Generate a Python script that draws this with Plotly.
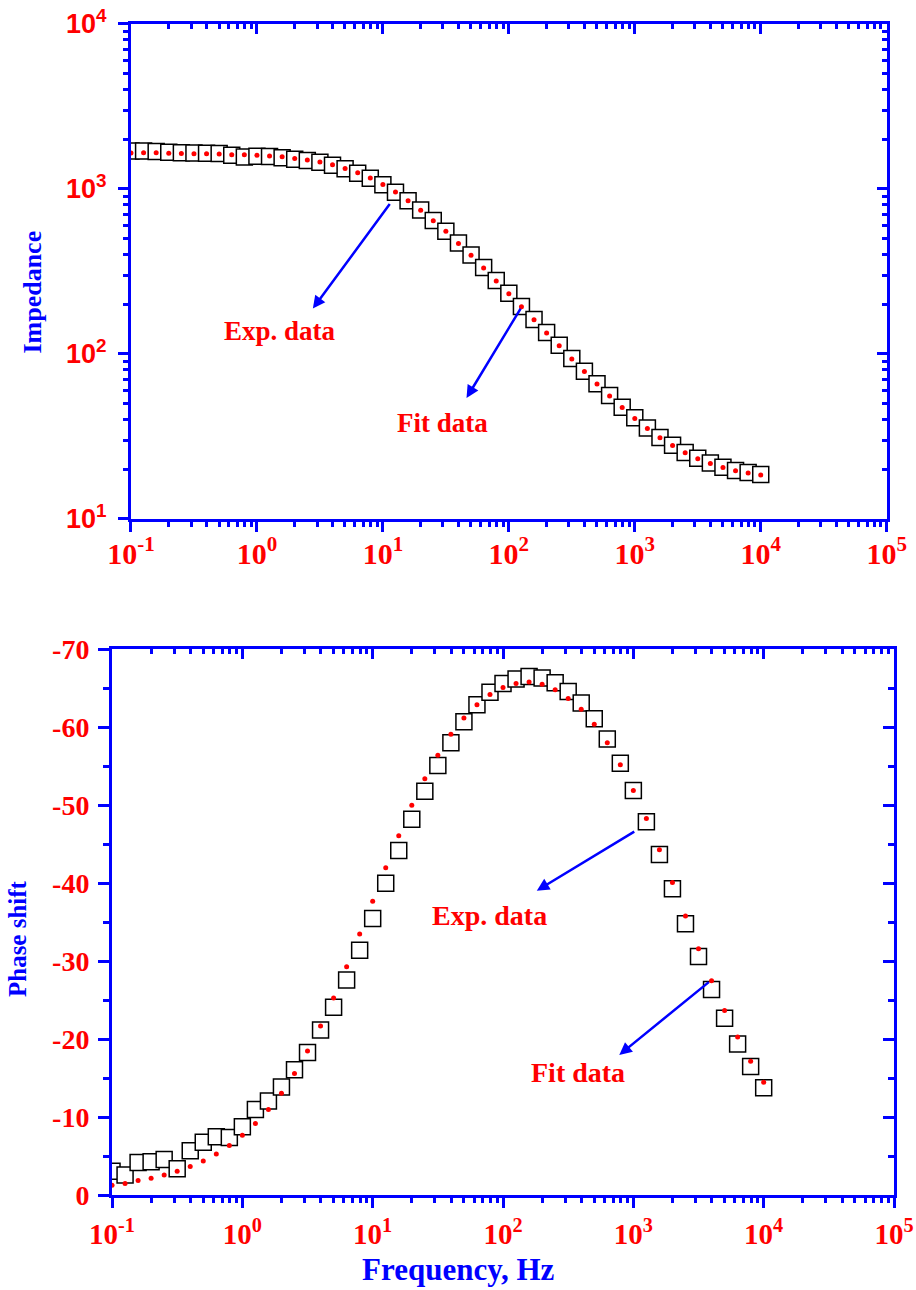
import plotly.graph_objects as go

# ---------------- data ----------------
freq_hz = [0.1, 0.1259, 0.1585, 0.1995, 0.2512, 0.3162, 0.3981, 0.5012, 0.631, 0.7943,
           1.0, 1.259, 1.585, 1.995, 2.512, 3.162, 3.981, 5.012, 6.31, 7.943,
           10.0, 12.59, 15.85, 19.95, 25.12, 31.62, 39.81, 50.12, 63.1, 79.43,
           100.0, 125.9, 158.5, 199.5, 251.2, 316.2, 398.1, 501.2, 631.0, 794.3,
           1000.0, 1259.0, 1585.0, 1995.0, 2512.0, 3162.0, 3981.0, 5012.0, 6310.0, 7943.0,
           10000.0]

impedance_exp = [1700, 1700, 1690, 1670, 1660, 1650, 1645, 1640, 1600, 1560,
                 1580, 1575, 1545, 1515, 1490, 1450, 1395, 1325, 1245, 1160,
                 1060, 955, 850, 745, 645, 555, 470, 398, 334, 279,
                 233, 194, 162, 135, 113, 94, 78.5, 66, 56, 47.5,
                 41, 35.6, 31.2, 28, 25.3, 23.3, 21.8, 20.6, 19.7, 19.1,
                 18.6]

impedance_fit = [1655, 1660, 1660, 1645, 1643, 1636, 1636, 1630, 1615, 1615,
                 1600, 1585, 1570, 1532, 1500, 1458, 1404, 1333, 1255, 1166,
                 1066, 959, 849, 742, 642, 554, 468, 396, 332, 277,
                 232, 193, 161, 134, 112, 93.3, 78.2, 65.8, 55.6, 47.3,
                 40.7, 35.4, 31.1, 27.9, 25.2, 23.2, 21.7, 20.5, 19.6, 19.0,
                 18.5]

phase_exp = [-3.1, -2.6, -4.2, -4.3, -4.6, -3.4, -5.7, -6.8, -7.5, -7.4,
             -8.8, -11.0, -12.1, -13.9, -16.1, -18.3, -21.2, -24.1, -27.6, -31.4,
             -35.5, -40.0, -44.2, -48.2, -51.8, -55.1, -58.0, -60.7, -62.9, -64.5,
             -65.6, -66.2, -66.5, -66.3, -65.7, -64.6, -63.1, -61.1, -58.5, -55.4,
             -51.9, -47.9, -43.7, -39.3, -34.8, -30.6, -26.4, -22.7, -19.4, -16.5,
             -13.8]

phase_fit = [-1.3, -1.5, -1.9, -2.2, -2.6, -3.1, -3.7, -4.4, -5.3, -6.4,
             -7.7, -9.2, -11.0, -13.1, -15.6, -18.5, -21.7, -25.3, -29.3, -33.5,
             -37.7, -42.0, -46.1, -50.0, -53.4, -56.4, -59.1, -61.2, -62.9, -64.2,
             -65.1, -65.6, -65.8, -65.5, -64.8, -63.7, -62.3, -60.4, -58.0, -55.2,
             -51.9, -48.3, -44.3, -40.1, -35.8, -31.6, -27.5, -23.7, -20.3, -17.2,
             -14.5]

x_tickvals = [0.1, 1, 10, 100, 1000, 10000, 100000]
x_ticktext = ["10<sup>-1</sup>", "10<sup>0</sup>", "10<sup>1</sup>", "10<sup>2</sup>",
              "10<sup>3</sup>", "10<sup>4</sup>", "10<sup>5</sup>"]
z_tickvals = [10, 100, 1000, 10000]
z_ticktext = ["10<sup>1</sup>", "10<sup>2</sup>", "10<sup>3</sup>", "10<sup>4</sup>"]
phase_tickvals = [0, -10, -20, -30, -40, -50, -60, -70]
phase_ticktext = ["0", "-10", "-20", "-30", "-40", "-50", "-60", "-70"]

# ---------------- styling ----------------
BLUE = "#0000FF"
RED = "#FF0000"
SERIF = "Liberation Serif, Times New Roman, serif"
SANS = "Liberation Sans, Arial, sans-serif"

minor_x = [m * 10 ** e for e in range(-1, 5) for m in range(2, 10)]
minor_z = [m * 10 ** e for e in range(1, 4) for m in range(2, 10)]

fig = go.Figure()

exp_marker = dict(symbol="square", size=16, color="white", line=dict(color="black", width=1.5))
fit_marker = dict(symbol="circle", size=5, color=RED, line=dict(width=0))

fig.add_trace(go.Scatter(x=freq_hz, y=impedance_exp, mode="markers", marker=exp_marker,
                         xaxis="x", yaxis="y", name="Exp. data", showlegend=False))
fig.add_trace(go.Scatter(x=freq_hz, y=impedance_fit, mode="markers", marker=fit_marker,
                         xaxis="x", yaxis="y", name="Fit data", showlegend=False))
fig.add_trace(go.Scatter(x=freq_hz, y=phase_exp, mode="markers", marker=exp_marker,
                         xaxis="x2", yaxis="y2", name="Exp. data", showlegend=False))
fig.add_trace(go.Scatter(x=freq_hz, y=phase_fit, mode="markers", marker=fit_marker,
                         xaxis="x2", yaxis="y2", name="Fit data", showlegend=False))
# empty traces so that the mirrored (top / right) frame axes get drawn
fig.add_trace(go.Scatter(x=[], y=[], xaxis="x3", yaxis="y3", showlegend=False, hoverinfo="skip"))
fig.add_trace(go.Scatter(x=[], y=[], xaxis="x4", yaxis="y4", showlegend=False, hoverinfo="skip"))


def log_axis(domain, anchor, rng, tickvals, ticktext, minorvals, font, standoff):
    return dict(domain=domain, anchor=anchor, type="log", range=rng, automargin=False,
                showline=True, linecolor=BLUE, linewidth=3, mirror=False,
                showgrid=False, zeroline=False,
                tickmode="array", tickvals=tickvals, ticktext=ticktext,
                ticks="outside", ticklen=10, tickwidth=2.5, tickcolor=BLUE,
                minor=dict(tickmode="array", tickvals=minorvals, ticks="outside",
                           ticklen=5, tickwidth=2.5, tickcolor=BLUE, showgrid=False),
                tickfont=font, ticklabelstandoff=standoff)


def overlay_log(over, side, anchor, rng, tickvals, minorvals):
    return dict(overlaying=over, side=side, anchor=anchor, type="log", range=rng,
                automargin=False,
                showline=True, linecolor=BLUE, linewidth=3, showgrid=False, zeroline=False,
                tickmode="array", tickvals=tickvals, showticklabels=False,
                ticks="inside", ticklen=10, tickwidth=2.5, tickcolor=BLUE,
                minor=dict(tickmode="array", tickvals=minorvals, ticks="inside",
                           ticklen=5, tickwidth=2.5, tickcolor=BLUE, showgrid=False))


top_xfont = dict(family=SERIF, size=30, color=RED, weight="bold")
top_yfont = dict(family=SANS, size=27, color=RED, weight="bold")
bot_xfont = dict(family=SERIF, size=29, color=RED, weight="bold")
bot_yfont = dict(family=SERIF, size=28, color=RED, weight="bold")

top_xdom = [0.143, 0.968]
top_ydom = [0.5977, 0.9814]
bot_xdom = [0.1223, 0.976]
bot_ydom = [0.0734, 0.4967]

fig.update_layout(
    width=916, height=1290,
    margin=dict(l=0, r=0, t=0, b=0),
    paper_bgcolor="white", plot_bgcolor="white",
    showlegend=False,
    xaxis=log_axis(top_xdom, "y", [-1, 5], x_tickvals, x_ticktext, minor_x, top_xfont, -4),
    yaxis=log_axis(top_ydom, "x", [1, 4], z_tickvals, z_ticktext, minor_z, top_yfont, 6),
    xaxis3=overlay_log("x", "top", "y", [-1, 5], x_tickvals, minor_x),
    yaxis3=overlay_log("y", "right", "x", [1, 4], z_tickvals, minor_z),
    xaxis2=log_axis(bot_xdom, "y2", [-1, 5], x_tickvals, x_ticktext, minor_x, bot_xfont, 1),
    yaxis2=dict(domain=bot_ydom, anchor="x2", range=[0, -70], automargin=False,
                showline=True, linecolor=BLUE, linewidth=3, showgrid=False, zeroline=False,
                tickmode="array", tickvals=phase_tickvals, ticktext=phase_ticktext,
                ticks="outside", ticklen=11, tickwidth=2.5, tickcolor=BLUE,
                minor=dict(dtick=5, tick0=0, ticks="outside", ticklen=6, tickwidth=2.5,
                           tickcolor=BLUE, showgrid=False),
                tickfont=bot_yfont, ticklabelstandoff=3),
    xaxis4=overlay_log("x2", "top", "y2", [-1, 5], x_tickvals, minor_x),
    yaxis4=dict(overlaying="y2", side="right", anchor="x2", range=[0, -70], automargin=False,
                showline=True, linecolor=BLUE, linewidth=3, showgrid=False, zeroline=False,
                tickmode="array", tickvals=phase_tickvals, showticklabels=False,
                ticks="inside", ticklen=11, tickwidth=2.5, tickcolor=BLUE,
                minor=dict(dtick=5, tick0=0, ticks="inside", ticklen=6, tickwidth=2.5,
                           tickcolor=BLUE, showgrid=False)),
)

label_font = dict(family=SERIF, size=27, color=RED, weight="bold")
title_font = dict(family=SERIF, color=BLUE, weight="bold")

annotations = [
    # arrows (log axes -> log10 coordinates)
    dict(xref="x", yref="y", x=0.444, y=2.275, ax=78, ay=-106, showarrow=True,
         arrowhead=2, arrowsize=1, arrowwidth=2.5, arrowcolor=BLUE, text=""),
    dict(xref="x", yref="y", x=1.664, y=1.733, ax=55, ay=-91, showarrow=True,
         arrowhead=2, arrowsize=1, arrowwidth=2.5, arrowcolor=BLUE, text=""),
    dict(xref="x2", yref="y2", x=2.259, y=-39.05, ax=99, ay=-60, showarrow=True,
         arrowhead=2, arrowsize=1, arrowwidth=2.5, arrowcolor=BLUE, text=""),
    dict(xref="x2", yref="y2", x=2.892, y=-18.0, ax=91, ay=-74, showarrow=True,
         arrowhead=2, arrowsize=1, arrowwidth=2.5, arrowcolor=BLUE, text=""),
    # labels
    dict(xref="x", yref="y", x=0.183, y=2.141, text="Exp. data", showarrow=False, font=label_font),
    dict(xref="x", yref="y", x=1.476, y=1.584, text="Fit data", showarrow=False, font=label_font),
    dict(xref="x2", yref="y2", x=1.893, y=-35.9, text="Exp. data", showarrow=False,
         font=dict(label_font, size=28)),
    dict(xref="x2", yref="y2", x=2.576, y=-15.8, text="Fit data", showarrow=False,
         font=dict(label_font, size=28)),
    # axis titles
    dict(xref="paper", yref="paper", x=0.0355, y=0.7736, text="Impedance", showarrow=False,
         textangle=-90, font=dict(title_font, size=26), xanchor="center", yanchor="middle"),
    dict(xref="paper", yref="paper", x=0.0197, y=0.2721, text="Phase shift", showarrow=False,
         textangle=-90, font=dict(title_font, size=25), xanchor="center", yanchor="middle"),
    dict(xref="paper", yref="paper", x=0.5, y=0.0, text="Frequency, Hz", showarrow=False,
         font=dict(title_font, size=31), xanchor="center", yanchor="bottom", yshift=1),
]
fig.update_layout(annotations=annotations)

fig.write_html("out.html")
